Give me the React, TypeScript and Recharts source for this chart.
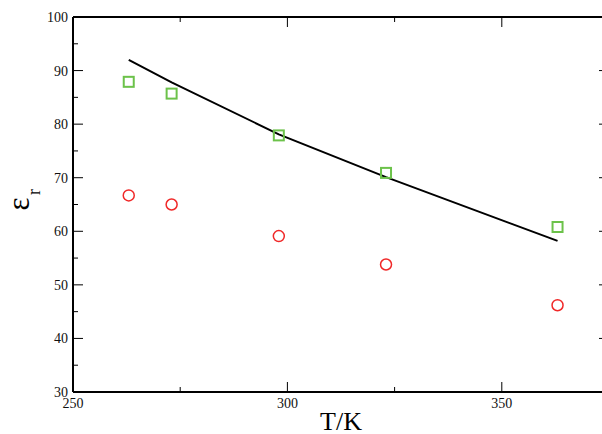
import React from 'react';
import { ComposedChart, Line, Scatter, XAxis, YAxis } from 'recharts';

const temps = [263, 273, 298, 323, 363];
const modelValues = [92.0, 87.8, 78.1, 70.1, 58.2];
const squareValues = [87.9, 85.7, 77.9, 70.9, 60.8];
const circleValues = [66.7, 65.0, 59.1, 53.8, 46.2];
const xTicks = [250, 275, 300, 325, 350, 375];
const yTicks = [30, 35, 40, 45, 50, 55, 60, 65, 70, 75, 80, 85, 90, 95, 100];

const lineData = temps.map((t, i) => ({ t, v: modelValues[i] }));
const squareData = temps.map((t, i) => ({ t, v: squareValues[i] }));
const circleData = temps.map((t, i) => ({ t, v: circleValues[i] }));

const FONT = '"Liberation Serif", "Times New Roman", serif';
const GREEN = '#6cc24a';
const RED = '#f02828';

const BottomTick = (props: any) => {
  const { x, y, payload } = props;
  const major = payload.value % 50 === 0;
  return (
    <g>
      <line x1={x} x2={x} y1={y} y2={y - (major ? 10 : 5)} stroke="#000" strokeWidth={1} />
      {major && (
        <text x={x} y={y + 16} textAnchor="middle" fontSize={14} fontFamily={FONT} fill="#111">
          {payload.value}
        </text>
      )}
    </g>
  );
};

const TopTick = (props: any) => {
  const { x, y, payload } = props;
  const major = payload.value % 50 === 0;
  return <line x1={x} x2={x} y1={y} y2={y + (major ? 10 : 5)} stroke="#000" strokeWidth={1} />;
};

const LeftTick = (props: any) => {
  const { x, y, payload } = props;
  const major = payload.value % 10 === 0;
  return (
    <g>
      <line x1={x} x2={x + (major ? 10 : 5)} y1={y} y2={y} stroke="#000" strokeWidth={1} />
      {major && (
        <text x={x - 5} y={y + 5} textAnchor="end" fontSize={14} fontFamily={FONT} fill="#111">
          {payload.value}
        </text>
      )}
    </g>
  );
};

const RightTick = (props: any) => {
  const { x, y, payload } = props;
  const major = payload.value % 10 === 0;
  return <line x1={x} x2={x - (major ? 10 : 5)} y1={y} y2={y} stroke="#000" strokeWidth={1} />;
};

const Square = (props: any) => {
  const { cx, cy } = props;
  return <rect x={cx - 5} y={cy - 5} width={10} height={10} fill="none" stroke={GREEN} strokeWidth={2} />;
};

const Ring = (props: any) => {
  const { cx, cy } = props;
  return <circle cx={cx} cy={cy} r={5.5} fill="none" stroke={RED} strokeWidth={1.5} />;
};

const YLabel = () => (
  <g fontFamily={FONT} fill="#000">
    <text transform="translate(29, 204) rotate(-90)" textAnchor="middle" fontSize={31}>
      ε
    </text>
    <text transform="translate(40, 192) rotate(-90)" textAnchor="middle" fontSize={18}>
      r
    </text>
  </g>
);

const XLabel = () => (
  <text x={341} y={430} textAnchor="middle" fontSize={26} fontFamily={FONT} fill="#000">
    T/K
  </text>
);

export default function App() {
  return (
    <div style={{ position: 'absolute', left: 0, top: 0, width: 602, height: 434, overflow: 'hidden', background: '#fff' }}>
      <ComposedChart width={611} height={434} margin={{ top: 0, right: 0, bottom: 0, left: 0 }}>
        <XAxis
          dataKey="t"
          type="number"
          domain={[250, 375]}
          ticks={xTicks}
          interval={0}
          height={42}
          tickSize={0}
          tickMargin={0}
          tickLine={false}
          axisLine={{ stroke: '#000', strokeWidth: 2 }}
          tick={<BottomTick />}
          allowDataOverflow
          label={{ content: () => <XLabel /> }}
        />
        <XAxis
          xAxisId="top"
          orientation="top"
          dataKey="t"
          type="number"
          domain={[250, 375]}
          ticks={xTicks}
          interval={0}
          height={17}
          tickSize={0}
          tickMargin={0}
          tickLine={false}
          axisLine={{ stroke: '#000', strokeWidth: 2 }}
          tick={<TopTick />}
          allowDataOverflow
        />
        <YAxis
          dataKey="v"
          type="number"
          domain={[30, 100]}
          ticks={yTicks}
          interval={0}
          width={73}
          tickSize={0}
          tickMargin={0}
          tickLine={false}
          axisLine={{ stroke: '#000', strokeWidth: 2 }}
          tick={<LeftTick />}
          allowDataOverflow
          label={{ content: () => <YLabel /> }}
        />
        <YAxis
          yAxisId="right"
          orientation="right"
          type="number"
          domain={[30, 100]}
          ticks={yTicks}
          interval={0}
          width={2}
          tickSize={0}
          tickMargin={0}
          tickLine={false}
          axisLine={{ stroke: '#000', strokeWidth: 2 }}
          tick={<RightTick />}
          allowDataOverflow
        />
        <Line
          data={lineData}
          dataKey="v"
          type="linear"
          stroke="#000"
          strokeWidth={2}
          dot={false}
          activeDot={false}
          isAnimationActive={false}
        />
        <Scatter data={squareData} dataKey="v" shape={<Square />} isAnimationActive={false} />
        <Scatter data={circleData} dataKey="v" shape={<Ring />} isAnimationActive={false} />
      </ComposedChart>
    </div>
  );
}
